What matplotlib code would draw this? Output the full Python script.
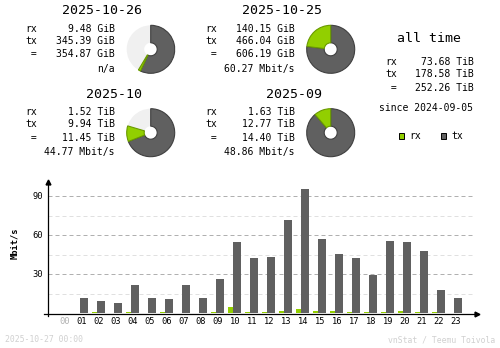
import matplotlib
matplotlib.use("Agg")
import matplotlib.pyplot as plt
from matplotlib.patches import Wedge, Rectangle

# vnStat-like summary image: four periods with pies, all-time totals, hourly bars

RX_COLOR = "#92cf00"
TX_COLOR = "#606060"
RX_EDGE = "#6a9a00"
TX_EDGE = "#404040"
EMPTY = "#f0f0f0"
FONT = "DejaVu Sans Mono"

# --- summary data ---
periods = ["2025-10-26", "2025-10-25", "2025-10", "2025-09"]
rx_vals = [9.48, 140.15, 1.52, 1.63]
tx_vals = [345.39, 466.04, 9.94, 12.77]
units = ["GiB", "GiB", "TiB", "TiB"]
rx_text = ["9.48 GiB", "140.15 GiB", "1.52 TiB", "1.63 TiB"]
tx_text = ["345.39 GiB", "466.04 GiB", "9.94 TiB", "12.77 TiB"]
tot_text = ["354.87 GiB", "606.19 GiB", "11.45 TiB", "14.40 TiB"]
rate_text = ["n/a", "60.27 Mbit/s", "44.77 Mbit/s", "48.86 Mbit/s"]

alltime_labels = ["rx", "tx", " ="]
alltime_values = ["73.68 TiB", "178.58 TiB", "252.26 TiB"]
since_text = "since 2024-09-05"

# --- hourly data (Mbit/s), hour 00 has no data yet ---
hours = ["%02d" % h for h in range(24)]
rx_mbit = [0, 0, 1.0, 0, 1.0, 0, 1.0, 0, 0, 1.0, 4.9, 1.0, 1.0, 1.8,
           3.3, 1.8, 1.8, 1.0, 1.0, 1.0, 1.8, 1.0, 1.0, 0]
tx_mbit = [0, 11.8, 9.5, 7.9, 21.8, 11.8, 11.0, 21.8, 11.8, 26.4, 54.9, 42.6,
           43.3, 71.8, 95.6, 57.2, 45.6, 42.6, 29.5, 55.6, 54.9, 47.9, 17.9, 11.8]
y_ticks = [30, 60, 90]
y_minor = [15, 45, 75]

W, H = 500, 348
fig = plt.figure(figsize=(W / 100, H / 100), dpi=100)

# ---------------- bar chart ----------------
zero_px, top_px = 313.3, 182.0
px_per_unit = 1.3
x_left, x_right = 48, 477
ax = fig.add_axes([x_left / W, (H - zero_px) / H, (x_right - x_left) / W,
                   (zero_px - top_px) / H])
xlim = ((x_left - 65) / 17, (x_right - 65) / 17)
ylim = (0, (zero_px - top_px) / px_per_unit)
ax.set_xlim(*xlim)
ax.set_ylim(*ylim)
ax.axis("off")

grid_end = (472 - 65) / 17
for v in y_minor:
    ax.plot([xlim[0], grid_end], [v, v], color="#e0e0e0", lw=0.72,
            ls=(0, (4, 3)), zorder=1)
for v in y_ticks:
    ax.plot([xlim[0], grid_end], [v, v], color="#b0b0b0", lw=0.72,
            ls=(0, (4, 3)), zorder=1)

idx = list(range(1, 24))
ax.bar([i - 7 / 17 for i in idx], [rx_mbit[i] for i in idx], width=5 / 17,
       align="edge", color=RX_COLOR, zorder=2)
ax.bar([i - 2 / 17 for i in idx], [tx_mbit[i] for i in idx], width=8 / 17,
       align="edge", color=TX_COLOR, zorder=2)

# axes with arrows (x axis sits just under the bars)
y0 = -0.5 / px_per_unit
ax.plot([(44 - 65) / 17, xlim[1]], [y0, y0], color="black", lw=0.9,
        clip_on=False, zorder=3)
ax.plot([xlim[0], xlim[0]], [-3 / px_per_unit, ylim[1]], color="black",
        lw=0.9, clip_on=False, zorder=3)
ax.plot([xlim[1]], [y0], marker=">", color="black", ms=3.5, clip_on=False, zorder=4)
ax.plot([xlim[0]], [ylim[1]], marker="^", color="black", ms=3.5, clip_on=False, zorder=4)
# current hour without data
ax.plot([(57 - 65) / 17, (73 - 65) / 17], [y0, y0], color="#c0c0c0", lw=1.1,
        zorder=4)

for i, h in enumerate(hours):
    ax.text(i, -6.2, h, ha="center", va="center", fontsize=6.3, family=FONT,
            color="#b0b0b0" if i == 0 else "black")
for v in y_ticks:
    ax.text((43 - 65) / 17, v, str(v), ha="right", va="center", fontsize=6.3,
            family=FONT)

# ---------------- overlay for text and pies ----------------
ov = fig.add_axes([0, 0, 1, 1])
ov.set_xlim(0, W)
ov.set_ylim(H, 0)
ov.axis("off")

ov.text(15, 243, "Mbit/s", rotation=90, ha="center", va="center",
        fontsize=6.3, family=FONT, fontweight="bold")

# panel layout: (label x, value right x, title right x, pie cx, title y, row ys, pie cy)
panels = [
    (25, 115, 141.7, 150.7, 11, [29, 41.3, 54.3, 69.3], 49.3),
    (205, 295, 321.7, 330.7, 11, [29, 41.3, 54.3, 69.3], 49.3),
    (25, 115, 141.7, 150.7, 94, [112.3, 124, 137.7, 152.3], 132.7),
    (205, 295, 321.7, 330.7, 94, [112.3, 124, 137.7, 152.3], 132.7),
]
totals = [r + t for r, t in zip(rx_vals, tx_vals)]
pie_max = [max(totals[0], totals[1])] * 2 + [max(totals[2], totals[3])] * 2

for k, (lx, vx, tx_, cx, ty, rows, cy) in enumerate(panels):
    ov.text(tx_, ty, periods[k], ha="right", va="center", fontsize=9.5,
            family=FONT)
    for lab, val, y in zip(["rx", "tx", " ="],
                           [rx_text[k], tx_text[k], tot_text[k]], rows[:3]):
        ov.text(lx, y, lab, ha="left", va="center", fontsize=7, family=FONT)
        ov.text(vx, y, val, ha="right", va="center", fontsize=7, family=FONT)
    ov.text(vx, rows[3], rate_text[k], ha="right", va="center", fontsize=7,
            family=FONT)

    r_out, r_in = 24, 6.5
    a_tx = 360 * tx_vals[k] / pie_max[k]
    a_rx = 360 * rx_vals[k] / pie_max[k]
    start = -90
    ov.add_patch(Wedge((cx, cy), r_out, 0, 360, width=r_out - r_in,
                       facecolor=EMPTY, edgecolor="none"))
    ov.add_patch(Wedge((cx, cy), r_out, start, start + a_tx,
                       width=r_out - r_in, facecolor=TX_COLOR,
                       edgecolor=TX_EDGE, lw=0.8))
    if a_rx > 0.5:
        ov.add_patch(Wedge((cx, cy), r_out, start + a_tx, start + a_tx + a_rx,
                           width=r_out - r_in, facecolor=RX_COLOR,
                           edgecolor=RX_EDGE, lw=0.8))

# all time block
ov.text(429, 39, "all time", ha="center", va="center", fontsize=9.5, family=FONT)
for lab, val, y in zip(alltime_labels, alltime_values, [62, 74, 88]):
    ov.text(385, y, lab, ha="left", va="center", fontsize=7, family=FONT)
    ov.text(474, y, val, ha="right", va="center", fontsize=7, family=FONT)
ov.text(426, 108, since_text, ha="center", va="center", fontsize=7, family=FONT)

ov.add_patch(Rectangle((398.5, 133), 5.5, 5.5, facecolor=RX_COLOR,
                       edgecolor="black", lw=0.7))
ov.text(409, 136, "rx", ha="left", va="center", fontsize=7, family=FONT)
ov.add_patch(Rectangle((440.5, 133), 5.5, 5.5, facecolor=TX_COLOR,
                       edgecolor="black", lw=0.7))
ov.text(451, 136, "tx", ha="left", va="center", fontsize=7, family=FONT)

# footer
ov.text(5, 340, "2025-10-27 00:00", ha="left", va="center", fontsize=5.9,
        family=FONT, color="#d0d0d0")
ov.text(495, 340, "vnStat / Teemu Toivola", ha="right", va="center",
        fontsize=5.9, family=FONT, color="#d0d0d0")

fig.savefig("out.png", dpi=100)
